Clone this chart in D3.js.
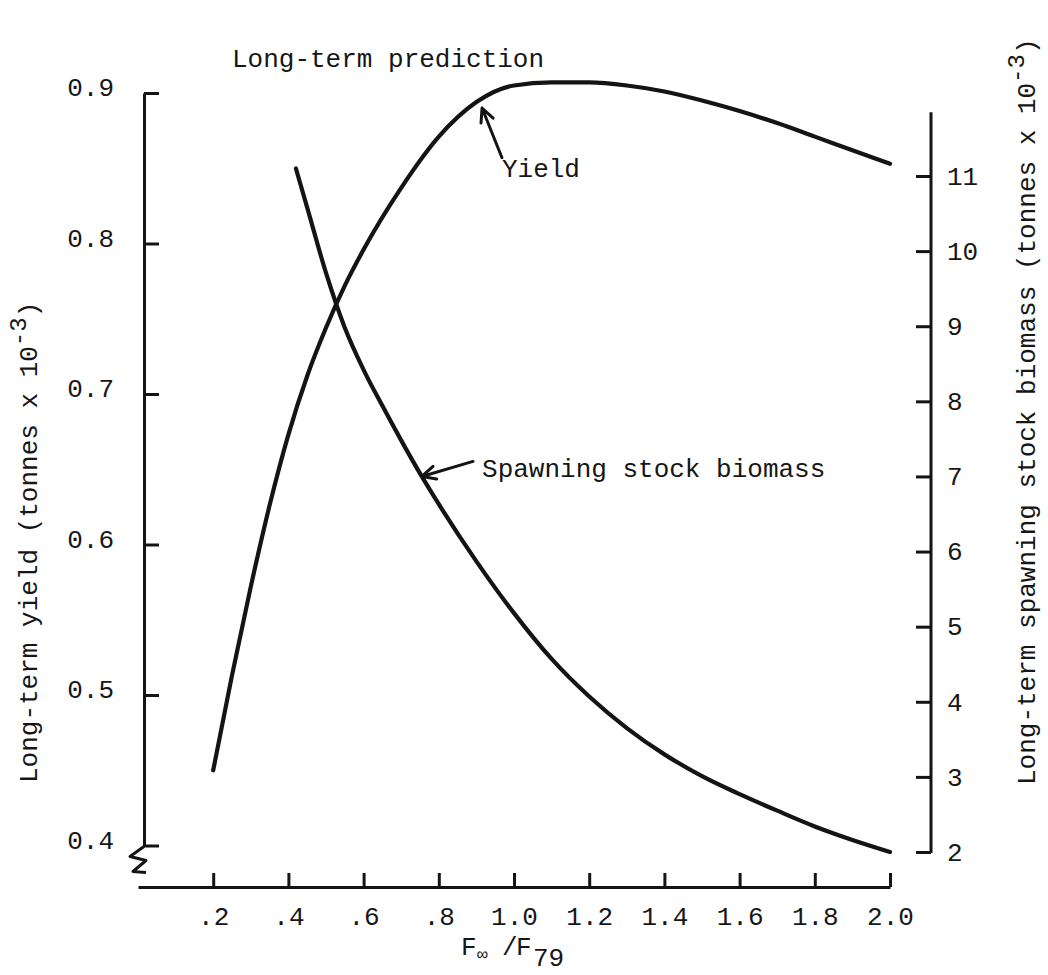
<!DOCTYPE html>
<html><head><meta charset="utf-8">
<script src="https://cdn.jsdelivr.net/npm/d3@7"></script>
<style>
html,body{margin:0;padding:0;background:#fff;}
text{font-family:"Liberation Mono","DejaVu Sans Mono",monospace;fill:#161616;}
</style>
</head><body>
<svg id="c" width="1048" height="975"></svg>
<script>
// ---- data ----
const F_YIELD = [0.2,0.25,0.3,0.35,0.4,0.45,0.5,0.55,0.6,0.7,0.8,0.9,1.0,1.1,1.2,1.3,1.4,1.5,1.6,1.7,1.8,1.9,2.0];
const YIELD   = [0.45,0.513,0.572,0.626,0.673,0.712,0.744,0.772,0.796,0.837,0.871,0.894,0.905,0.907,0.907,0.905,0.901,0.895,0.888,0.880,0.871,0.862,0.853];
const F_SSB   = [0.42,0.45,0.5,0.55,0.6,0.65,0.7,0.75,0.8,0.9,1.0,1.1,1.2,1.3,1.4,1.5,1.6,1.7,1.8,1.9,2.0];
const SSB     = [11.1,10.58,9.71,8.98,8.42,7.94,7.48,7.04,6.63,5.87,5.18,4.57,4.07,3.65,3.30,3.01,2.77,2.55,2.34,2.16,2.0];
const X_TICKS = [0.2,0.4,0.6,0.8,1.0,1.2,1.4,1.6,1.8,2.0];
const X_TICK_LABELS = [".2",".4",".6",".8","1.0","1.2","1.4","1.6","1.8","2.0"];
const YL_TICKS = [0.4,0.5,0.6,0.7,0.8,0.9];
const YL_TICK_LABELS = ["0.4","0.5","0.6","0.7","0.8","0.9"];
const YR_TICKS = [2,3,4,5,6,7,8,9,10,11];
const YR_TICK_LABELS = ["2","3","4","5","6","7","8","9","10","11"];
const TITLE = "Long-term prediction";
const YIELD_LABEL = "Yield";
const SSB_LABEL = "Spawning stock biomass";

// ---- layout ----
const INK = "#141414";
const FS = 26;
const svg = d3.select("#c");
svg.append("rect").attr("width",1048).attr("height",975).attr("fill","#fff");

const x  = d3.scaleLinear().domain([0,2]).range([138,890]);
const yL = d3.scaleLinear().domain([0.4,0.9]).range([845.5,93]);
const yR = d3.scaleLinear().domain([2,11]).range([852,176]);

function styleAxis(g){
  g.attr("font-family",null).attr("font-size",FS);
  g.selectAll("path.domain").attr("stroke",INK).attr("stroke-width",3);
  g.selectAll(".tick line").attr("stroke",INK).attr("stroke-width",3);
  g.selectAll(".tick text").attr("fill",INK);
}

// left axis
const gL = svg.append("g").attr("transform","translate(144,0)")
  .call(d3.axisLeft(yL).tickValues(YL_TICKS).tickFormat((d,i)=>YL_TICK_LABELS[i])
        .tickSizeInner(-15).tickSizeOuter(0).tickPadding(30));
styleAxis(gL);
gL.selectAll(".tick text").attr("dy","0.1em");

// axis break mark at bottom of left axis
const b0 = yL(0.4);
svg.append("path")
  .attr("d",`M144,${b0+1} L130,${b0+11} L146,${b0+15} L133,${b0+26} L146,${b0+27}`)
  .attr("fill","none").attr("stroke",INK).attr("stroke-width",3).attr("stroke-linejoin","round");

// bottom axis
const gB = svg.append("g").attr("transform","translate(0,887)")
  .call(d3.axisBottom(x).tickValues(X_TICKS).tickFormat((d,i)=>X_TICK_LABELS[i])
        .tickSizeInner(-14).tickSizeOuter(0).tickPadding(20));
styleAxis(gB);

// right axis
const gR = svg.append("g").attr("transform","translate(931,0)")
  .call(d3.axisRight(yR).tickValues(YR_TICKS).tickFormat((d,i)=>YR_TICK_LABELS[i])
        .tickSizeInner(-15).tickSizeOuter(0).tickPadding(16));
styleAxis(gR);
gR.select("path.domain").remove();
gR.append("line").attr("x1",0).attr("x2",0).attr("y1",yR(2)+1).attr("y2",yR(11.85))
  .attr("stroke",INK).attr("stroke-width",3);

// curves
const lineY = d3.line().x(d=>x(d[0])).y(d=>yL(d[1])).curve(d3.curveMonotoneX);
const lineS = d3.line().x(d=>x(d[0])).y(d=>yR(d[1])).curve(d3.curveMonotoneX);
svg.append("path").attr("d",lineY(F_YIELD.map((f,i)=>[f,YIELD[i]])))
  .attr("fill","none").attr("stroke",INK).attr("stroke-width",4.2).attr("stroke-linecap","round");
svg.append("path").attr("d",lineS(F_SSB.map((f,i)=>[f,SSB[i]])))
  .attr("fill","none").attr("stroke",INK).attr("stroke-width",4.2).attr("stroke-linecap","round");

// arrows
function arrow(x1,y1,x2,y2){
  const a = Math.atan2(y1-y2,x1-x2), L=15, s=0.45;
  const p = `M${x1},${y1}L${x2},${y2}` +
    `M${x2+L*Math.cos(a+s)},${y2+L*Math.sin(a+s)}L${x2},${y2}L${x2+L*Math.cos(a-s)},${y2+L*Math.sin(a-s)}`;
  svg.append("path").attr("d",p).attr("fill","none").attr("stroke",INK)
    .attr("stroke-width",3).attr("stroke-linecap","round").attr("stroke-linejoin","round");
}
arrow(x(0.968), yL(0.857), x(0.915), yL(0.89));
arrow(x(0.891), yR(7.2), x(0.755), yR(7.0));

// annotation labels
svg.append("text").attr("x",x(0.968)).attr("y",yL(0.844)).attr("font-size",FS).text(YIELD_LABEL);
svg.append("text").attr("x",x(0.915)).attr("y",yR(6.99)).attr("font-size",FS).text(SSB_LABEL);

// title
svg.append("text").attr("x",232).attr("y",67).attr("font-size",FS).text(TITLE);

// x axis title  F∞ / F79
const xt = svg.append("text").attr("y",955).attr("font-size",FS);
xt.append("tspan").attr("x",461).text("F");
xt.append("tspan").attr("x",477).attr("dy",5).attr("font-size",18).text("∞");
xt.append("tspan").attr("x",502).attr("dy",-5).text("/");
xt.append("tspan").attr("x",516).text("F");
xt.append("tspan").attr("x",533).attr("dy",11).text("79");

// left y title
const lt = svg.append("text").attr("transform","translate(37,783) rotate(-90)").attr("font-size",FS);
lt.append("tspan").text("Long-term yield (tonnes x 10");
lt.append("tspan").attr("dy",-11).attr("font-size",24).text("-3");
lt.append("tspan").attr("dy",11).text(")");

// right y title
const rt = svg.append("text").attr("transform","translate(1035,785) rotate(-90)").attr("font-size",FS);
rt.append("tspan").text("Long-term spawning stock biomass (tonnes x 10");
rt.append("tspan").attr("dy",-11).attr("font-size",24).text("-3");
rt.append("tspan").attr("dy",11).text(")");
</script>
</body></html>
